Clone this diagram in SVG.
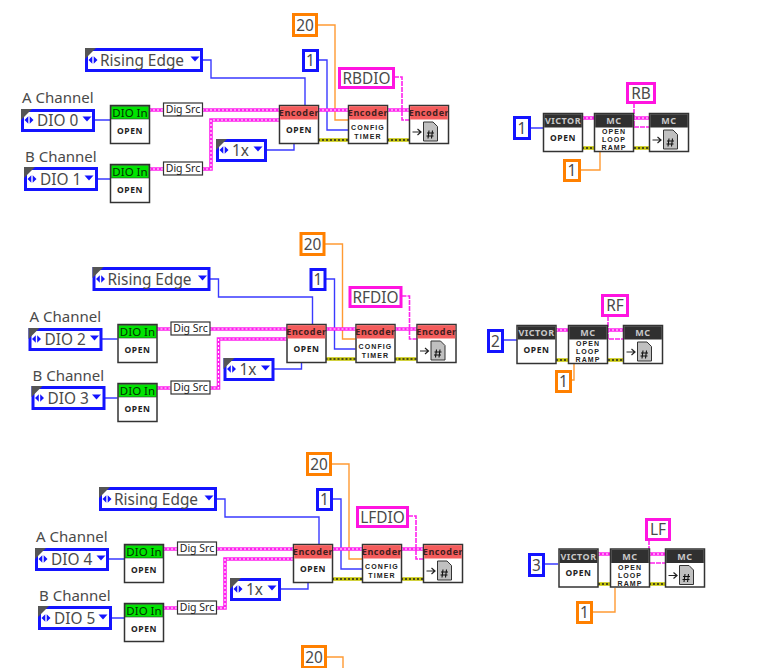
<svg xmlns="http://www.w3.org/2000/svg" width="771" height="668" viewBox="0 0 771 668">
<style>
text{font-family:"Noto Sans","Open Sans","Liberation Sans",sans-serif}
.w{fill:none}
.b{stroke:#3a3aff;stroke-width:1.4}
.or{stroke:#ff9a33;stroke-width:1.4}
.pk{stroke:#ff22ee;stroke-width:3.6}
.pd{stroke:#fff;stroke-width:1.2;stroke-dasharray:2 2}
.ye{stroke:#c4c400;stroke-width:3.4}
.yd{stroke:#222;stroke-width:1.4;stroke-dasharray:2 2}
.pt{stroke:#ff22ee;stroke-width:1.6;stroke-dasharray:5 1}
.eb{fill:#fff;stroke:#1414ff;stroke-width:3}
.co{fill:#fff;stroke:#ff8000;stroke-width:3}
.cb{fill:#fff;stroke:#1414ff;stroke-width:3}
.cp{fill:#fff;stroke:#ff14e0;stroke-width:3}
.lbl{font-size:15.4px;fill:#4a4a4a}
.mid{text-anchor:middle}
.cap{font-size:15px;fill:#4a4a4a}
.dio{font-size:11.5px;fill:#003300;text-anchor:middle}
.enc{font-size:9px;font-weight:700;fill:#402020;text-anchor:middle;letter-spacing:.6px}
.mc{font-size:9px;font-weight:700;fill:#c8c8c8;text-anchor:middle;letter-spacing:.5px}
.op{font-size:8.5px;font-weight:700;fill:#222;text-anchor:middle;letter-spacing:.6px}
.rp{font-family:"Liberation Sans",sans-serif;font-size:7px;font-weight:700;fill:#222;text-anchor:middle;letter-spacing:1.1px}
.ds{font-size:10.5px;fill:#222;text-anchor:middle}
</style>
<defs>
<polygon id="ec" points="0,0 11,0 0,11" fill="#555"/>
<path id="ar" d="M-4.5,0 L-.7,-3.8 V3.8 Z M4.5,0 L.7,-3.8 V3.8 Z" fill="#1414ff"/>
<polygon id="dn" points="-4.5,-2.5 4.5,-2.5 0,2.5" fill="#1414ff"/>
<g id="ng"><rect x="0" y="0" width="39" height="38" fill="#fff" stroke="#333" stroke-width="1.5"/><rect x=".7" y=".7" width="37.6" height="12.8" fill="#00e400" stroke="#333" stroke-width=".6"/></g>
<g id="nr"><rect x="0" y="0" width="39" height="38" fill="#fff" stroke="#333" stroke-width="1.5"/><rect x=".7" y=".7" width="37.6" height="13.3" fill="#f45c5c"/></g>
<g id="nk"><rect x="0" y="0" width="39" height="38" fill="#fff" stroke="#333" stroke-width="1.5"/><rect x=".7" y=".7" width="37.6" height="13.3" fill="#303030"/></g>
<g id="rd"><path d="M3,26.5 H11 M8,23.5 L11.5,26.5 L8,29.5" fill="none" stroke="#222" stroke-width="1.2"/><path d="M14,16.5 H23.5 L28,21 V35.5 H14 Z" fill="#c0c0c0" stroke="#333" stroke-width="1"/><path d="M19.5,25 L18.5,33 M23,25 L22,33 M17.5,27.5 H24.5 M17,30.5 H24" stroke="#111" stroke-width="1.1" fill="none"/></g>
<rect id="dsb" x="0" y="0" width="39" height="13" fill="#fff" stroke="#333" stroke-width="1.2"/>
</defs>

<g id="connectors">
<g id="wires-a">
<path class="w b" d="M202,60H211V78H305V105M94,120H110M96,179H110M266,150H294V144"/>
<path class="w or" d="M317,25H335V120H348"/>
<path class="w b" d="M318,60H327V130H348"/>
<path class="w pk" d="M149,110H163M202,110H279M149,169H163M202,169H211V120H279M318,110H348M387,110H409"/>
<path class="w pd" d="M149,110H163M202,110H279M149,169H163M202,169H211V120H279M318,110H348M387,110H409"/>
<path class="w ye" d="M318,140H348M387,140H409"/>
<path class="w yd" d="M318,140H348M387,140H409"/>
<path class="w pt" d="M394,77H402V120H409"/>
</g>
<g id="wires-b" transform="translate(7.5,219)">
<path class="w b" d="M202,60H211V78H305V105M94,120H110M96,179H110M266,150H294V144"/>
<path class="w or" d="M317,25H335V120H348"/>
<path class="w b" d="M318,60H327V130H348"/>
<path class="w pk" d="M149,110H163M202,110H279M149,169H163M202,169H211V120H279M318,110H348M387,110H409"/>
<path class="w pd" d="M149,110H163M202,110H279M149,169H163M202,169H211V120H279M318,110H348M387,110H409"/>
<path class="w ye" d="M318,140H348M387,140H409"/>
<path class="w yd" d="M318,140H348M387,140H409"/>
<path class="w pt" d="M394,77H402V120H409"/>
</g>
<g id="wires-c" transform="translate(14,439)">
<path class="w b" d="M202,60H211V78H305V105M94,120H110M96,179H110M266,150H294V144"/>
<path class="w or" d="M317,25H335V120H348"/>
<path class="w b" d="M318,60H327V130H348"/>
<path class="w pk" d="M149,110H163M202,110H279M149,169H163M202,169H211V120H279M318,110H348M387,110H409"/>
<path class="w pd" d="M149,110H163M202,110H279M149,169H163M202,169H211V120H279M318,110H348M387,110H409"/>
<path class="w ye" d="M318,140H348M387,140H409"/>
<path class="w yd" d="M318,140H348M387,140H409"/>
<path class="w pt" d="M394,77H402V120H409"/>
</g>
<path class="w b" d="M530,128H543M503,340H517M544,564H558"/>
<path class="w or" d="M580,170H600V152M571,380H574V364M592,612H615V588M326,657H343V668"/>
<path class="w pk" d="M582,118H594M634,118H649M556,330H568M608,330H623M598,554H610M649,554H665"/>
<path class="w pd" d="M582,118H594M634,118H649M556,330H568M608,330H623M598,554H610M649,554H665"/>
<path class="w ye" d="M582,148H594M634,148H649M556,360H568M608,360H623M598,584H610M649,584H665"/>
<path class="w yd" d="M582,148H594M634,148H649M556,360H568M608,360H623M598,584H610M649,584H665"/>
<path class="w pt" d="M634,103V127H649M608,316V339H623M649,540V563H665"/>
</g>

<g id="set-a">
<g id="a-edge"><rect class="eb" x="86.5" y="49.5" width="115" height="21"/><use href="#ec" x="85" y="48"/><use href="#ar" x="93" y="60"/><text class="lbl" x="100" y="66">Rising Edge</text><use href="#dn" x="195" y="59"/></g>
<g id="a-dio0"><text class="cap" x="22" y="103">A Channel</text><rect class="eb" x="22.5" y="110.5" width="71" height="20"/><use href="#ec" x="21" y="109"/><use href="#ar" x="29" y="120"/><text class="lbl" x="37" y="126">DIO 0</text><use href="#dn" x="87" y="119"/></g>
<g id="a-dio1"><text class="cap" x="25" y="162">B Channel</text><rect class="eb" x="25.5" y="168.5" width="71" height="21"/><use href="#ec" x="24" y="167"/><use href="#ar" x="32" y="179"/><text class="lbl" x="40" y="185">DIO 1</text><use href="#dn" x="89" y="178"/></g>
<g id="a-in0" transform="translate(110.5,105.5)"><use href="#ng"/><text class="dio" x="19.5" y="11">DIO In</text><text class="op" x="19.5" y="28">OPEN</text></g>
<g id="a-in1" transform="translate(110.5,164.5)"><use href="#ng"/><text class="dio" x="19.5" y="11">DIO In</text><text class="op" x="19.5" y="28">OPEN</text></g>
<g id="a-src0" transform="translate(163.5,103)"><use href="#dsb"/><text class="ds" x="19.5" y="10">Dig Src</text></g>
<g id="a-src1" transform="translate(163.5,162)"><use href="#dsb"/><text class="ds" x="19.5" y="10">Dig Src</text></g>
<g id="a-1x"><rect class="eb" x="217.5" y="140.5" width="48" height="20"/><use href="#ec" x="216" y="139"/><use href="#ar" x="224" y="150"/><text class="lbl" x="232" y="156">1x</text><use href="#dn" x="258" y="149"/></g>
<g id="a-open" transform="translate(279.5,105.5)"><use href="#nr"/><text class="enc" x="19.5" y="10.5">Encoder</text><text class="op" x="19.5" y="27">OPEN</text></g>
<g id="a-20"><rect class="co" x="293.5" y="14.5" width="23" height="21"/><text class="lbl mid" x="305" y="31">20</text></g>
<g id="a-1"><rect class="cb" x="303.5" y="50.5" width="14" height="20"/><text class="lbl mid" x="310.5" y="66">1</text></g>
<g id="a-rb"><rect class="cp" x="339.5" y="68.5" width="54" height="19"/><text class="lbl mid" x="366.5" y="84">RBDIO</text></g>
<g id="a-cfg" transform="translate(348.5,105.5)"><use href="#nr"/><text class="enc" x="19.5" y="10.5">Encoder</text><text class="rp" x="19.5" y="24">CONFIG</text><text class="rp" x="19.5" y="33">TIMER</text></g>
<g id="a-rd" transform="translate(409.5,105.5)"><use href="#nr"/><text class="enc" x="19.5" y="10.5">Encoder</text><use href="#rd"/></g>
</g>

<g id="set-b" transform="translate(7.5,219)">
<g id="b-edge"><rect class="eb" x="86.5" y="49.5" width="115" height="21"/><use href="#ec" x="85" y="48"/><use href="#ar" x="93" y="60"/><text class="lbl" x="100" y="66">Rising Edge</text><use href="#dn" x="195" y="59"/></g>
<g id="b-dio0"><text class="cap" x="22" y="103">A Channel</text><rect class="eb" x="22.5" y="110.5" width="71" height="20"/><use href="#ec" x="21" y="109"/><use href="#ar" x="29" y="120"/><text class="lbl" x="37" y="126">DIO 2</text><use href="#dn" x="87" y="119"/></g>
<g id="b-dio1"><text class="cap" x="25" y="162">B Channel</text><rect class="eb" x="25.5" y="168.5" width="71" height="21"/><use href="#ec" x="24" y="167"/><use href="#ar" x="32" y="179"/><text class="lbl" x="40" y="185">DIO 3</text><use href="#dn" x="89" y="178"/></g>
<g id="b-in0" transform="translate(110.5,105.5)"><use href="#ng"/><text class="dio" x="19.5" y="11">DIO In</text><text class="op" x="19.5" y="28">OPEN</text></g>
<g id="b-in1" transform="translate(110.5,164.5)"><use href="#ng"/><text class="dio" x="19.5" y="11">DIO In</text><text class="op" x="19.5" y="28">OPEN</text></g>
<g id="b-src0" transform="translate(163.5,103)"><use href="#dsb"/><text class="ds" x="19.5" y="10">Dig Src</text></g>
<g id="b-src1" transform="translate(163.5,162)"><use href="#dsb"/><text class="ds" x="19.5" y="10">Dig Src</text></g>
<g id="b-1x"><rect class="eb" x="217.5" y="140.5" width="48" height="20"/><use href="#ec" x="216" y="139"/><use href="#ar" x="224" y="150"/><text class="lbl" x="232" y="156">1x</text><use href="#dn" x="258" y="149"/></g>
<g id="b-open" transform="translate(279.5,105.5)"><use href="#nr"/><text class="enc" x="19.5" y="10.5">Encoder</text><text class="op" x="19.5" y="27">OPEN</text></g>
<g id="b-20"><rect class="co" x="293.5" y="14.5" width="23" height="21"/><text class="lbl mid" x="305" y="31">20</text></g>
<g id="b-1"><rect class="cb" x="303.5" y="50.5" width="14" height="20"/><text class="lbl mid" x="310.5" y="66">1</text></g>
<g id="b-rf"><rect class="cp" x="342.5" y="68.5" width="51" height="19"/><text class="lbl mid" x="368" y="84">RFDIO</text></g>
<g id="b-cfg" transform="translate(348.5,105.5)"><use href="#nr"/><text class="enc" x="19.5" y="10.5">Encoder</text><text class="rp" x="19.5" y="24">CONFIG</text><text class="rp" x="19.5" y="33">TIMER</text></g>
<g id="b-rd" transform="translate(409.5,105.5)"><use href="#nr"/><text class="enc" x="19.5" y="10.5">Encoder</text><use href="#rd"/></g>
</g>

<g id="set-c" transform="translate(14,439)">
<g id="c-edge"><rect class="eb" x="86.5" y="49.5" width="115" height="21"/><use href="#ec" x="85" y="48"/><use href="#ar" x="93" y="60"/><text class="lbl" x="100" y="66">Rising Edge</text><use href="#dn" x="195" y="59"/></g>
<g id="c-dio0"><text class="cap" x="22" y="103">A Channel</text><rect class="eb" x="22.5" y="110.5" width="71" height="20"/><use href="#ec" x="21" y="109"/><use href="#ar" x="29" y="120"/><text class="lbl" x="37" y="126">DIO 4</text><use href="#dn" x="87" y="119"/></g>
<g id="c-dio1"><text class="cap" x="25" y="162">B Channel</text><rect class="eb" x="25.5" y="168.5" width="71" height="21"/><use href="#ec" x="24" y="167"/><use href="#ar" x="32" y="179"/><text class="lbl" x="40" y="185">DIO 5</text><use href="#dn" x="89" y="178"/></g>
<g id="c-in0" transform="translate(110.5,105.5)"><use href="#ng"/><text class="dio" x="19.5" y="11">DIO In</text><text class="op" x="19.5" y="28">OPEN</text></g>
<g id="c-in1" transform="translate(110.5,164.5)"><use href="#ng"/><text class="dio" x="19.5" y="11">DIO In</text><text class="op" x="19.5" y="28">OPEN</text></g>
<g id="c-src0" transform="translate(163.5,103)"><use href="#dsb"/><text class="ds" x="19.5" y="10">Dig Src</text></g>
<g id="c-src1" transform="translate(163.5,162)"><use href="#dsb"/><text class="ds" x="19.5" y="10">Dig Src</text></g>
<g id="c-1x"><rect class="eb" x="217.5" y="140.5" width="48" height="20"/><use href="#ec" x="216" y="139"/><use href="#ar" x="224" y="150"/><text class="lbl" x="232" y="156">1x</text><use href="#dn" x="258" y="149"/></g>
<g id="c-open" transform="translate(279.5,105.5)"><use href="#nr"/><text class="enc" x="19.5" y="10.5">Encoder</text><text class="op" x="19.5" y="27">OPEN</text></g>
<g id="c-20"><rect class="co" x="293.5" y="14.5" width="23" height="21"/><text class="lbl mid" x="305" y="31">20</text></g>
<g id="c-1"><rect class="cb" x="303.5" y="50.5" width="14" height="20"/><text class="lbl mid" x="310.5" y="66">1</text></g>
<g id="c-lf"><rect class="cp" x="343.5" y="68.5" width="50" height="19"/><text class="lbl mid" x="368.5" y="84">LFDIO</text></g>
<g id="c-cfg" transform="translate(348.5,105.5)"><use href="#nr"/><text class="enc" x="19.5" y="10.5">Encoder</text><text class="rp" x="19.5" y="24">CONFIG</text><text class="rp" x="19.5" y="33">TIMER</text></g>
<g id="c-rd" transform="translate(409.5,105.5)"><use href="#nr"/><text class="enc" x="19.5" y="10.5">Encoder</text><use href="#rd"/></g>
</g>

<g id="r1-const"><rect class="cb" x="514.5" y="117.5" width="15" height="21"/><text class="lbl mid" x="522" y="134">1</text></g>
<g id="r1-victor" transform="translate(543.5,113.5)"><use href="#nk"/><text class="mc" x="19.5" y="10.5">VICTOR</text><text class="op" x="19.5" y="27">OPEN</text></g>
<g id="r1-mc" transform="translate(594.5,113.5)"><use href="#nk"/><text class="mc" x="19.5" y="10.5">MC</text><text class="rp" x="19.5" y="20.5">OPEN</text><text class="rp" x="19.5" y="28.5">LOOP</text><text class="rp" x="19.5" y="36.5">RAMP</text></g>
<g id="r1-rd" transform="translate(649.5,113.5)"><use href="#nk"/><text class="mc" x="19.5" y="10.5">MC</text><use href="#rd"/></g>
<g id="r1-name"><rect class="cp" x="627.5" y="83.5" width="27" height="19"/><text class="lbl mid" x="641" y="99">RB</text></g>
<g id="r1-one"><rect class="co" x="564.5" y="160.5" width="15" height="20"/><text class="lbl mid" x="572" y="176">1</text></g>

<g id="r2-const"><rect class="cb" x="488.5" y="330.5" width="14" height="21"/><text class="lbl mid" x="495.5" y="347">2</text></g>
<g id="r2-victor" transform="translate(517,325.5)"><use href="#nk"/><text class="mc" x="19.5" y="10.5">VICTOR</text><text class="op" x="19.5" y="27">OPEN</text></g>
<g id="r2-mc" transform="translate(568.5,325.5)"><use href="#nk"/><text class="mc" x="19.5" y="10.5">MC</text><text class="rp" x="19.5" y="20.5">OPEN</text><text class="rp" x="19.5" y="28.5">LOOP</text><text class="rp" x="19.5" y="36.5">RAMP</text></g>
<g id="r2-rd" transform="translate(623.5,325.5)"><use href="#nk"/><text class="mc" x="19.5" y="10.5">MC</text><use href="#rd"/></g>
<g id="r2-name"><rect class="cp" x="602.5" y="295.5" width="25" height="20"/><text class="lbl mid" x="615" y="311">RF</text></g>
<g id="r2-one"><rect class="co" x="556.5" y="371.5" width="14" height="20"/><text class="lbl mid" x="563.5" y="387">1</text></g>

<g id="r3-const"><rect class="cb" x="529.5" y="554.5" width="14" height="21"/><text class="lbl mid" x="536.5" y="571">3</text></g>
<g id="r3-victor" transform="translate(559,549)"><use href="#nk"/><text class="mc" x="19.5" y="10.5">VICTOR</text><text class="op" x="19.5" y="27">OPEN</text></g>
<g id="r3-mc" transform="translate(610.5,549)"><use href="#nk"/><text class="mc" x="19.5" y="10.5">MC</text><text class="rp" x="19.5" y="20.5">OPEN</text><text class="rp" x="19.5" y="28.5">LOOP</text><text class="rp" x="19.5" y="36.5">RAMP</text></g>
<g id="r3-rd" transform="translate(665.5,549)"><use href="#nk"/><text class="mc" x="19.5" y="10.5">MC</text><use href="#rd"/></g>
<g id="r3-name"><rect class="cp" x="646.5" y="519.5" width="23" height="20"/><text class="lbl mid" x="658" y="535">LF</text></g>
<g id="r3-one"><rect class="co" x="577.5" y="602.5" width="14" height="20"/><text class="lbl mid" x="584.5" y="618">1</text></g>

<g id="d-20"><rect class="co" x="302.5" y="646.5" width="23" height="21"/><text class="lbl mid" x="314" y="663">20</text></g>
</svg>
